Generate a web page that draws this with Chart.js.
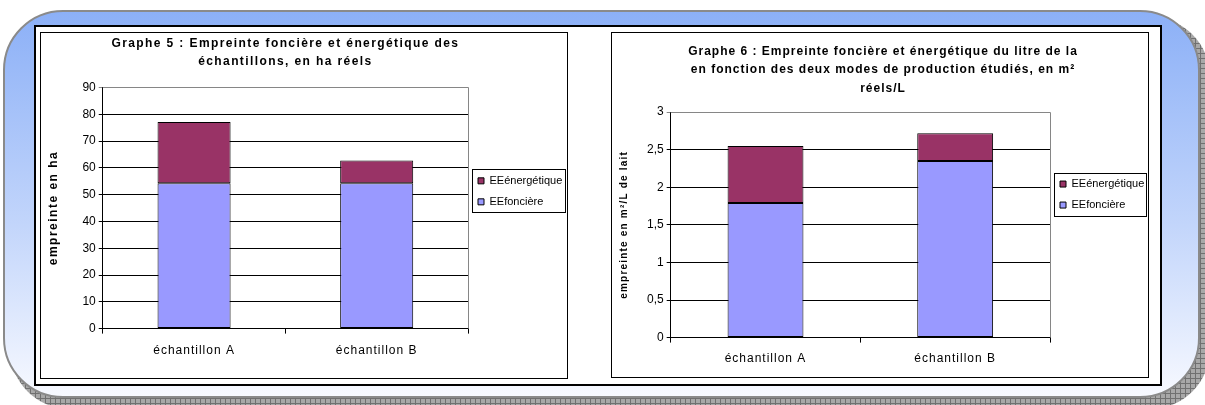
<!DOCTYPE html>
<html>
<head>
<meta charset="utf-8">
<script src="https://cdn.jsdelivr.net/npm/chart.js@4/dist/chart.umd.min.js"></script>
<style>
html, body { margin: 0; width: 1205px; height: 405px; overflow: hidden; background: #fff; }
#shadow, #panel, #frame, .box { position: absolute; box-sizing: border-box; }
#shadow {
	left: 10px; top: 17px; width: 1200px; height: 392px; border-radius: 60px;
	background-color: #a8a8a8;
	background-image:
		repeating-linear-gradient(0deg, #707070 0 1px, transparent 1px 5px),
		repeating-linear-gradient(90deg, #707070 0 1px, transparent 1px 5px);
}
#panel {
	left: 3px; top: 10px; width: 1197px; height: 388px; border: 2px solid #8a8a8a; border-radius: 60px;
	background: linear-gradient(#8cb0f7, #c2d5fb 55%, #f7f9ff);
}
#frame { left: 34px; top: 25px; width: 1128px; height: 361px; border: 2px solid #000; background: #fff; }
.box { border: 1px solid #000; background: #fff; }
#boxA { left: 40px; top: 32px; width: 528px; height: 347px; }
#boxB { left: 611px; top: 32px; width: 538px; height: 346px; }
canvas { display: block; }
</style>
</head>
<body>
<div id="shadow"></div>
<div id="panel"></div>
<div id="frame"></div>
<div class="box" id="boxA"><canvas id="graphe5" width="526" height="345"></canvas></div>
<div class="box" id="boxB"><canvas id="graphe6" width="536" height="344"></canvas></div>
<script>
let categories = ['échantillon A', 'échantillon B'];
let labelFonciere = 'EEfoncière';
let labelEnergetique = 'EEénergétique';

// graphe 5, ha réels
let fonciereHa = [54.2, 54.2];
let energetiqueHa = [22.9, 8.5];
let yMaxHa = 90;
let yStepHa = 10;

// graphe 6, m² réels par litre
let fonciereM2 = [1.79, 2.35];
let energetiqueM2 = [0.76, 0.37];
let yMaxM2 = 3;
let yStepM2 = 0.5;

let title5 = ['Graphe 5 : Empreinte foncière et énergétique des', 'échantillons, en ha réels'];
let title6 = [
	'Graphe 6 : Empreinte foncière et énergétique du litre de la',
	'en fonction des deux modes de production étudiés, en m²',
	'réels/L',
];
let yTitle5 = 'empreinte en ha';
let yTitle6 = 'empreinte en m²/L de lait';

Chart.defaults.font.family = 'Arial, "Liberation Sans", sans-serif';
Chart.defaults.color = '#000';

function spaced(obj, name, px) {
	let orig = obj[name];
	obj[name] = function(...args) {
		let ctx = this.ctx;
		ctx.save();
		ctx.letterSpacing = px + 'px';
		orig.apply(this, args);
		ctx.restore();
	};
}

let excelLook = {
	id: 'excelLook',
	afterInit(chart, args, opts) {
		spaced(chart.titleBlock, 'draw', opts.titleSpacing);
	},
	afterUpdate(chart, args, opts) {
		let {x, y} = chart.scales;
		if (!x.$spaced) {
			spaced(x, 'drawLabels', opts.tickSpacing);
			spaced(y, 'drawTitle', opts.axisSpacing);
			x.$spaced = true;
		}
	},
	beforeDatasetsDraw(chart) {
		// grey plot area edge, top and right
		let {ctx, chartArea: a} = chart;
		let r = Math.round(a.right) + 0.5;
		let t = Math.round(a.top) + 0.5;
		ctx.save();
		ctx.strokeStyle = '#868686';
		ctx.lineWidth = 1;
		ctx.beginPath();
		ctx.moveTo(a.left, t);
		ctx.lineTo(r, t);
		ctx.lineTo(r, a.bottom);
		ctx.stroke();
		ctx.restore();
	},
	afterDraw(chart) {
		// framed legend
		let {ctx} = chart;
		let hb = chart.legend.legendHitBoxes;
		let first = hb[0];
		let last = hb[hb.length - 1];
		let x0 = Math.round(first.left - 6) + 0.5;
		let y0 = Math.round(first.top - 6) + 0.5;
		let x1 = chart.width - 1.5;
		let y1 = Math.round(last.top + last.height + 5) + 0.5;
		ctx.save();
		ctx.strokeStyle = '#000';
		ctx.lineWidth = 1;
		ctx.strokeRect(x0, y0, x1 - x0, y1 - y0);
		ctx.restore();
	},
};

function comma(v) {
	return String(v).replace('.', ',');
}

function makeChart(id, lay) {
	return new Chart(document.getElementById(id), {
		type: 'bar',
		data: {
			labels: categories,
			datasets: [
				{
					label: labelFonciere,
					data: lay.fonciere,
					backgroundColor: '#9999ff',
					borderColor: '#000',
					borderWidth: 1,
					borderSkipped: false,
				},
				{
					label: labelEnergetique,
					data: lay.energetique,
					backgroundColor: '#993366',
					borderColor: '#000',
					borderWidth: 1,
					borderSkipped: false,
				},
			],
		},
		options: {
			responsive: false,
			animation: false,
			barPercentage: 0.4,
			categoryPercentage: 1,
			layout: {padding: lay.padding},
			scales: {
				x: {
					stacked: true,
					grid: {drawOnChartArea: false, tickLength: 5, color: '#000'},
					border: {color: '#000'},
					ticks: {font: {size: 12}, padding: lay.xPad},
				},
				y: {
					stacked: true,
					min: 0,
					max: lay.yMax,
					ticks: {stepSize: lay.yStep, font: {size: 12}, padding: 3, callback: comma},
					grid: {
						tickLength: 4,
						color: (c) => c.tick && c.tick.value === lay.yMax ? '#868686' : '#000',
					},
					border: {color: '#000'},
					title: {
						display: true,
						text: lay.yTitle,
						font: {size: lay.yTitleSize, weight: 'bold'},
						padding: {top: 0, bottom: lay.yTitlePad},
					},
				},
			},
			plugins: {
				title: {
					display: true,
					text: lay.title,
					fullSize: lay.titleFull,
					font: {size: 12, weight: 'bold', lineHeight: 1.56},
					padding: lay.titlePad,
				},
				legend: {
					position: 'right',
					align: 'start',
					fullSize: false,
					reverse: true,
					maxWidth: lay.legendWidth,
					title: {display: true, text: ' ', font: {size: 12}, padding: {top: lay.legendDrop, bottom: 0}},
					labels: {boxWidth: 6, boxHeight: 6, padding: 10, font: {size: 11}, color: '#000'},
				},
				tooltip: {enabled: false},
				excelLook: {titleSpacing: lay.titleSpacing, tickSpacing: 1, axisSpacing: lay.yTitleSpacing},
			},
		},
		plugins: [excelLook],
	});
}

makeChart('graphe5', {
	fonciere: fonciereHa,
	energetique: energetiqueHa,
	yMax: yMaxHa,
	yStep: yStepHa,
	title: title5,
	titleFull: false,
	titlePad: {top: 1, bottom: 16},
	titleSpacing: 1.4,
	yTitle: yTitle5,
	yTitleSize: 12,
	yTitlePad: 19,
	yTitleSpacing: 1.5,
	xPad: 10,
	legendDrop: 63.5,
	legendWidth: 99,
	padding: {left: 5, right: 0, top: 0, bottom: 10},
});

makeChart('graphe6', {
	fonciere: fonciereM2,
	energetique: energetiqueM2,
	yMax: yMaxM2,
	yStep: yStepM2,
	title: title6,
	titleFull: true,
	titlePad: {top: 9, bottom: 14},
	titleSpacing: 1,
	yTitle: yTitle6,
	yTitleSize: 10,
	yTitlePad: 14,
	yTitleSpacing: 1.2,
	xPad: 9,
	legendDrop: 42,
	legendWidth: 98,
	padding: {left: 6, right: 0, top: 0, bottom: 2},
});
</script>
</body>
</html>
